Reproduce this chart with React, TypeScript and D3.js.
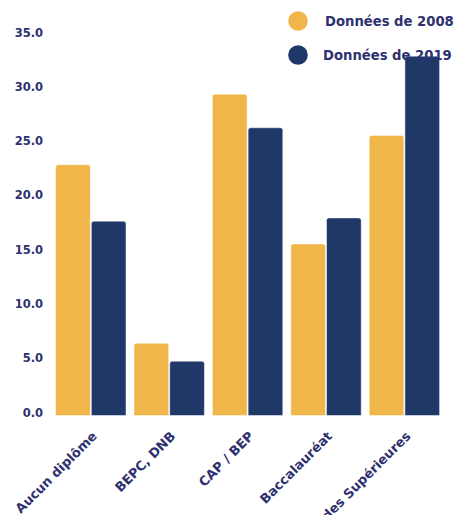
import React from "react";
import * as d3 from "d3";

const categories = ["Aucun diplôme", "BEPC, DNB", "CAP / BEP", "Baccalauréat", "Études Supérieures"];
const series = ["Données de 2008", "Données de 2019"];
const values2008 = [23.1, 6.65, 29.6, 15.8, 25.8];
const values2019 = [17.9, 5.0, 26.5, 18.2, 33.1];
const yTicks = [0, 5, 10, 15, 20, 25, 30, 35];
const colors = ["#F0B64A", "#1F3868"];

const W = 455;
const H = 515;
const TEXT = "#2E3170";
const FONT = "'DejaVu Sans', sans-serif";

function topRounded(x: number, y: number, w: number, h: number, r: number) {
  const rr = Math.min(r, h / 2, w / 2);
  return `M${x},${y + h}V${y + rr}Q${x},${y} ${x + rr},${y}H${x + w - rr}Q${x + w},${y} ${x + w},${y + rr}V${y + h}Z`;
}

export default function App() {
  const x0 = d3.scaleBand<string>().domain(categories).range([51.7, 443.5]).paddingInner(0.102).paddingOuter(0.05);
  const x1 = d3.scaleBand<string>().domain(series).range([0, x0.bandwidth()]).paddingInner(0.03);
  const y = d3.scaleLinear().domain([0, 35]).range([415.5, 35.5]);
  const data = [values2008, values2019];

  return (
    <svg width={W} height={H} style={{ position: "absolute", left: 0, top: 0, fontFamily: FONT }}>
      <rect width={W} height={H} fill="#fff" />
      {/* y axis labels */}
      {yTicks.map((t) => (
        <text key={t} x={43} y={y(t) - 3} dy="0.35em" textAnchor="end" fontSize={11.5} fontWeight={700} fill={TEXT}>
          {d3.format(".1f")(t)}
        </text>
      ))}
      {/* bars */}
      {categories.map((c, ci) => (
        <g key={c} transform={`translate(${x0(c)},0)`}>
          {series.map((s, si) => {
            const v = data[si][ci];
            const yy = y(v);
            return (
              <path
                key={s}
                d={topRounded(x1(s)!, yy, x1.bandwidth(), y(0) - yy, 2.5)}
                fill={colors[si]}
                stroke="#ffffff"
                strokeOpacity={0.6}
                strokeWidth={0.8}
              />
            );
          })}
        </g>
      ))}
      {/* legend */}
      {series.map((s, i) => (
        <g key={s}>
          <circle cx={298} cy={21 + i * 34} r={9.8} fill={colors[i]} />
          <text x={i === 0 ? 325 : 323} y={21 + i * 34} dy="0.35em" fontSize={13.2} fontWeight={700} fill={TEXT}>
            {s}
          </text>
        </g>
      ))}
      {/* x labels */}
      {categories.map((c) => {
        const cx = x0(c)! + x0.bandwidth() / 2;
        return (
          <text
            key={c}
            transform={`translate(${cx + 7},${437}) rotate(-45)`}
            textAnchor="end"
            fontSize={13}
            fontWeight={700}
            fill={TEXT}
          >
            {c}
          </text>
        );
      })}
    </svg>
  );
}
